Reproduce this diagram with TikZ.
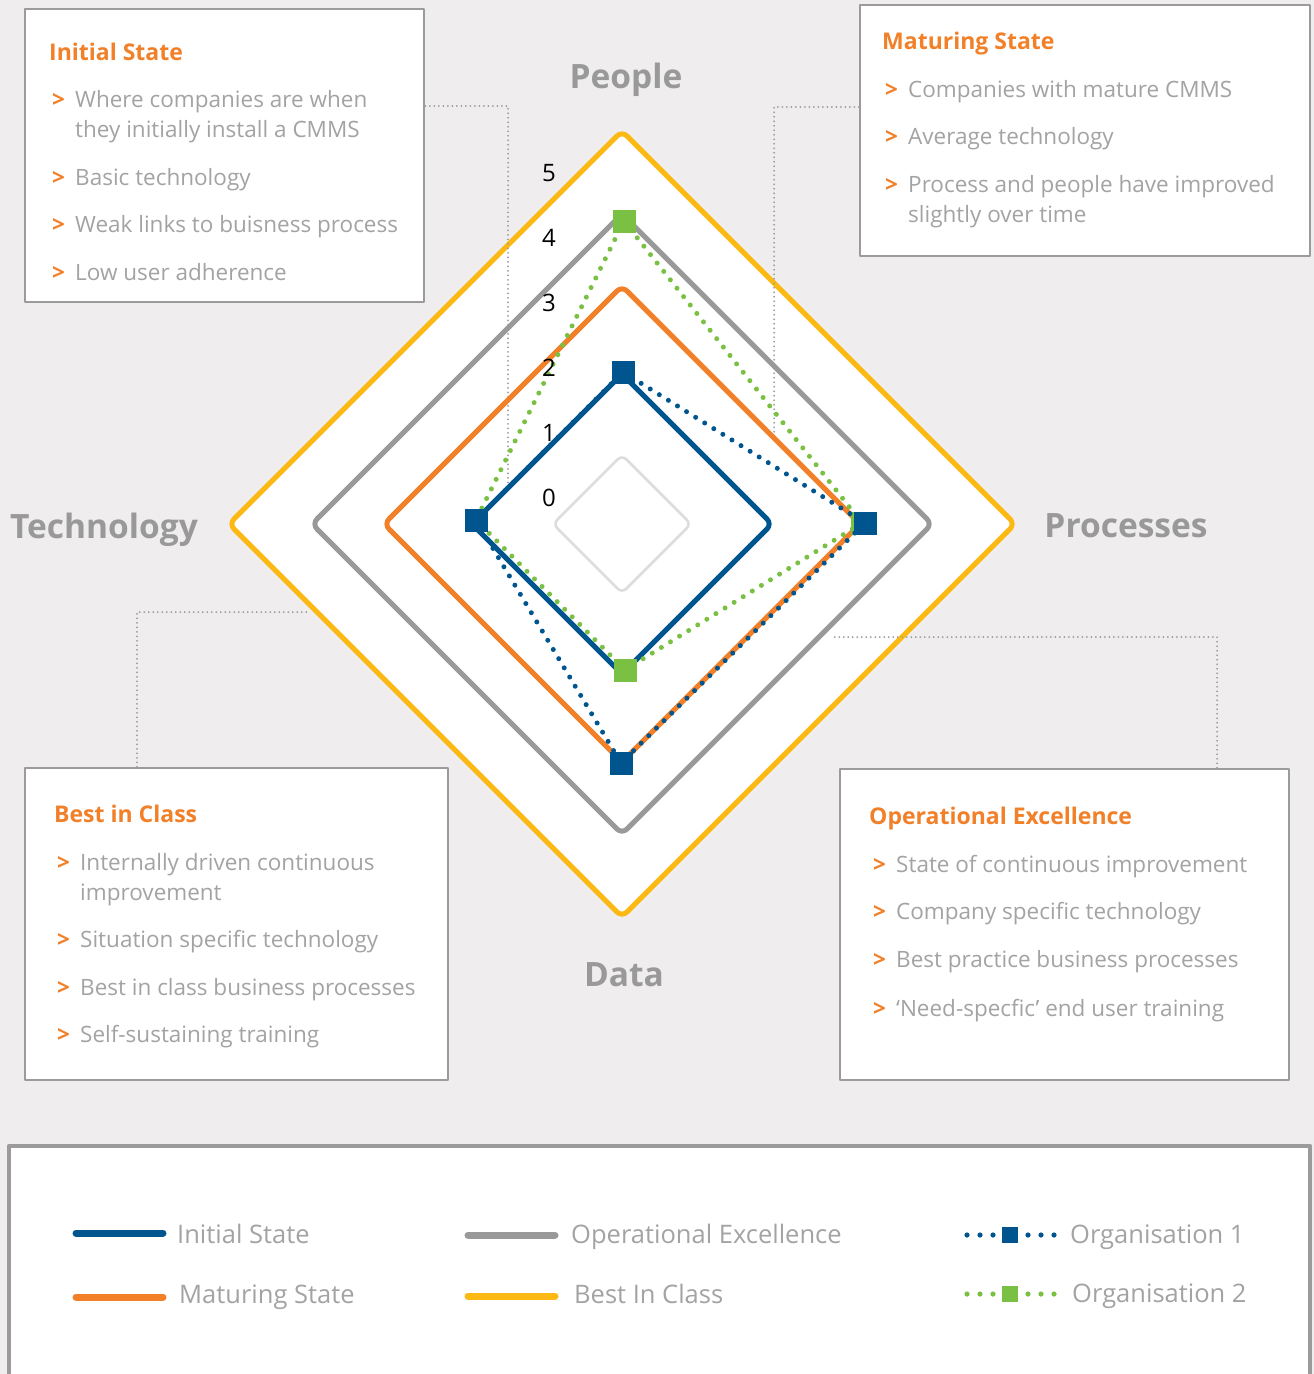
\documentclass[tikz,border=0pt]{standalone}
\usepackage{fontspec}
\setmainfont{Open Sans}
\usepackage{xcolor}
\definecolor{bgc}{HTML}{EFEDEE}
\definecolor{initc}{HTML}{00558F}
\definecolor{maturec}{HTML}{F28029}
\definecolor{opexc}{HTML}{999999}
\definecolor{bestc}{HTML}{FDB913}
\definecolor{org2c}{HTML}{7AC143}
\definecolor{textc}{HTML}{A3A3A3}
\definecolor{framec}{HTML}{9B9B9B}
\definecolor{gridc}{HTML}{DCDCDC}
\usepackage{tikz}
\usetikzlibrary{positioning}

\newcommand{\bul}{\makebox[23pt][l]{\textcolor{maturec}{\bfseries >}}}
\newcommand{\ind}{\hspace*{23pt}}

\begin{document}
\begin{tikzpicture}[
  x=1pt, y=-1pt, %pixel grid
  line join=round,
  infobox/.style={draw=framec, line width=2.5pt, fill=white, inner sep=0pt},
  boxtitle/.style={anchor=base west, inner sep=0pt, text=maturec,
    font=\fontsize{23}{27}\selectfont\bfseries},
  boxitem/.style={anchor=base west, inner sep=0pt, text=textc, align=left,
    font=\fontsize{22.5}{30}\selectfont},
  axislabel/.style={anchor=base, inner sep=0pt, text=opexc,
    font=\fontsize{33.5}{36}\selectfont\bfseries},
  ticklabel/.style={anchor=base, inner sep=0pt, font=\fontsize{24}{26}\selectfont},
  ring/.style={line width=5pt, rounded corners=7pt},
  leader/.style={draw=framec, line width=2pt, dash pattern=on 0pt off 4.5pt, line cap=round},
  orgline/.style={line width=5pt, dash pattern=on 0pt off 10.7pt, line cap=round},
  marker/.style={rectangle, minimum size=#1, inner sep=0pt},
  legline/.style={line width=7pt, line cap=round},
  legendtext/.style={anchor=base west, inner sep=0pt, text=textc,
    font=\fontsize{25.5}{30}\selectfont}
  ]
  \fill[bgc] (0,0) rectangle (1314,1374);
  \useasboundingbox (0,0) rectangle (1314,1374);

  % radar grid
  \foreach \lev/\r in {1/69,2/150,3/238,4/310,5/393}{
    \coordinate (people\lev) at (622,524-\r);
    \coordinate (proc\lev) at (622+\r,524);
    \coordinate (data\lev) at (622,524+\r);
    \coordinate (tech\lev) at (622-\r,524);
  }
  \filldraw[ring, draw=bestc, fill=white] (people5) -- (proc5) -- (data5) -- (tech5) -- cycle;

  % boxes
  \node[infobox, minimum width=399, minimum height=293] (initbox) at (224.5,155.5) {};
  \node[infobox, minimum width=450, minimum height=251] (matbox) at (1085,130.5) {};
  \node[infobox, minimum width=423, minimum height=312] (bestbox) at (236.5,924) {};
  \node[infobox, minimum width=449, minimum height=311] (opexbox) at (1064.5,924.5) {};

  % leaders
  \coordinate (initbend) at (508,106);
  \coordinate (initend) at (508,488);
  \coordinate (matbend) at (774,107);
  \coordinate (matend) at (774,436);
  \coordinate (bestbend) at (137,612);
  \coordinate (bestend) at (310,612);
  \coordinate (opexbend) at (1217,637);
  \coordinate (opexend) at (832,637);
  \draw[leader] (initbox.east |- initbend) -- (initbend) -- (initend);
  \draw[leader] (matbox.west |- matbend) -- (matbend) -- (matend);
  \draw[leader] (bestbox.north -| bestbend) -- (bestbend) -- (bestend);
  \draw[leader] (opexbox.north -| opexbend) -- (opexbend) -- (opexend);

  % rings
  \draw[gridc, line width=2.5pt, rounded corners=6pt] (people1) -- (proc1) -- (data1) -- (tech1) -- cycle;
  \draw[ring, opexc] (people4) -- (proc4) -- (data4) -- (tech4) -- cycle;
  \draw[ring, maturec] (people3) -- (proc3) -- (data3) -- (tech3) -- cycle;
  \draw[ring, initc] (people2) -- (proc2) -- (data2) -- (tech2) -- cycle;

  % organisations
  \coordinate (o1people) at (623,372);
  \coordinate (o1proc) at (865,523);
  \coordinate (o1data) at (621,763);
  \coordinate (o1tech) at (476,520);
  \coordinate (o2people) at (624,221);
  \coordinate (o2proc) at (862,523);
  \coordinate (o2data) at (625,670);
  \coordinate (o2tech) at (476,520);
  \draw[orgline, org2c] (o2people) -- (o2proc) -- (o2data) -- (o2tech) -- cycle;
  \foreach \pt in {people,proc,data,tech}
    \node[marker=23pt, fill=org2c] (m2\pt) at (o2\pt) {};
  \draw[orgline, initc] (o1people) -- (o1proc) -- (o1data) -- (o1tech) -- cycle;
  \foreach \pt in {people,proc,data,tech}
    \node[marker=23pt, fill=initc] (m1\pt) at (o1\pt) {};

  % scale
  \foreach \v/\yy in {5/181,4/246,3/311,2/376,1/441,0/506}
    \node[ticklabel] (tick\v) at (549,\yy) {\v};

  \node[axislabel] (lpeople) at (626,88) {People};
  \node[axislabel] (ltech) at (104,538) {Technology};
  \node[axislabel] (lproc) at (1126,537) {Processes};
  \node[axislabel] (ldata) at (624,986) {Data};

  % Initial State
  \node[boxtitle] (inittitle) at (49,60) {Initial State};
  \node[boxitem] (init1) at (52,137) {\bul Where companies are when\\\ind they initially install a CMMS};
  \node[boxitem] (init2) at (52,185) {\bul Basic technology};
  \node[boxitem] (init3) at (52,232) {\bul Weak links to buisness process};
  \node[boxitem] (init4) at (52,280) {\bul Low user adherence};

  % Maturing State
  \node[boxtitle] (mattitle) at (882,49) {Maturing State};
  \node[boxitem] (mat1) at (885,97) {\bul Companies with mature CMMS};
  \node[boxitem] (mat2) at (885,144) {\bul Average technology};
  \node[boxitem] (mat3) at (885,222) {\bul Process and people have improved\\\ind slightly over time};

  % Best in Class
  \node[boxtitle] (besttitle) at (54,822) {Best in Class};
  \node[boxitem] (best1) at (57,900) {\bul Internally driven continuous\\\ind improvement};
  \node[boxitem] (best2) at (57,947) {\bul Situation specific technology};
  \node[boxitem] (best3) at (57,995) {\bul Best in class business processes};
  \node[boxitem] (best4) at (57,1042) {\bul Self-sustaining training};

  % Operational Excellence
  \node[boxtitle] (opextitle) at (869,824) {Operational Excellence};
  \node[boxitem] (opex1) at (873,872) {\bul State of continuous improvement};
  \node[boxitem] (opex2) at (873,919) {\bul Company specific technology};
  \node[boxitem] (opex3) at (873,967) {\bul Best practice business processes};
  \node[boxitem] (opex4) at (873,1016) {\bul ‘Need-specfic’ end user training};

  % legend
  \node[infobox, line width=4.5pt, minimum width=1301, minimum height=260] (legbox) at (659.5,1276) {};
  \coordinate (leginitA) at (76,1233);   \coordinate (leginitB) at (163,1233);
  \coordinate (legmatA) at (76,1297);    \coordinate (legmatB) at (163,1297);
  \coordinate (legopexA) at (468,1235);  \coordinate (legopexB) at (555,1235);
  \coordinate (legbestA) at (468,1296);  \coordinate (legbestB) at (555,1296);
  \draw[legline, initc] (leginitA) -- (leginitB);
  \draw[legline, maturec] (legmatA) -- (legmatB);
  \draw[legline, opexc] (legopexA) -- (legopexB);
  \draw[legline, bestc] (legbestA) -- (legbestB);
  \foreach \xx in {967,980,993,1028,1041,1054}{
    \fill[initc] (\xx,1235) circle (2.6pt);
    \fill[org2c] (\xx,1294) circle (2.6pt);
  }
  \node[marker=16pt, fill=initc] (legorg1) at (1010,1235) {};
  \node[marker=16pt, fill=org2c] (legorg2) at (1010,1294) {};
  \node[legendtext] (tinit) at (177,1243) {Initial State};
  \node[legendtext] (tmat) at (179,1303) {Maturing State};
  \node[legendtext] (topex) at (571,1243) {Operational Excellence};
  \node[legendtext] (tbest) at (574,1303) {Best In Class};
  \node[legendtext] (torg1) at (1070,1243) {Organisation 1};
  \node[legendtext] (torg2) at (1072,1302) {Organisation 2};
\end{tikzpicture}
\end{document}
